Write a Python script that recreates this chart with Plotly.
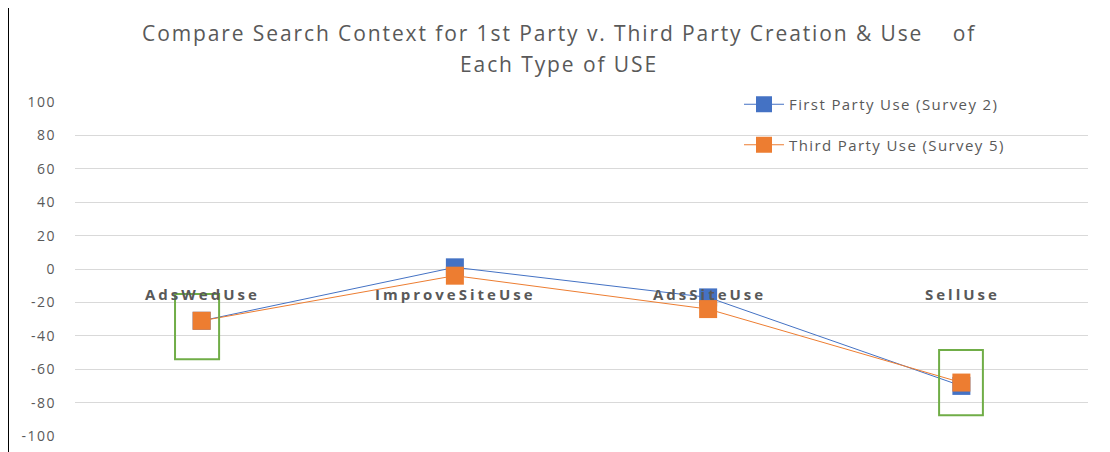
import plotly.graph_objects as go

# categories and values
categories = ["AdsWedUse", "ImproveSiteUse", "AdsSiteUse", "SellUse"]
first_party = [-31, 1, -17, -70]
third_party = [-31, -4, -24, -68]
y_ticks = [100, 80, 60, 40, 20, 0, -20, -40, -60, -80, -100]

title_lines = ["Compare Search Context for 1st Party v. Third Party Creation &amp; Use&nbsp;&nbsp;&nbsp; of",
               "Each Type of USE"]


def spaced(txt, px):
    return '<span style="letter-spacing:%spx">%s</span>' % (px, txt)


# helpers in screen pixels: plot area spans x 75..1088, y 102..436; paper top at 80
def py(pixel_y):
    return (436 - pixel_y) / 356


def px(pixel_x):
    return (pixel_x - 75) / 1013


fig = go.Figure()
fig.add_trace(go.Scatter(x=categories, y=first_party, mode="lines+markers",
                         name=spaced("First Party Use (Survey 2)", 1.4), legendgroup="a",
                         line=dict(color="#4472C4", width=1),
                         marker=dict(symbol="square", size=18, color="#4472C4")))
fig.add_trace(go.Scatter(x=categories, y=third_party, mode="lines+markers",
                         name=spaced("Third Party Use (Survey 5)", 1.4), legendgroup="b",
                         line=dict(color="#ED7D31", width=1),
                         marker=dict(symbol="square", size=18, color="#ED7D31")))

# category labels sit on the zero line, like Excel does
for c in categories:
    fig.add_annotation(x=c, y=0, text="<b>%s</b>" % spaced(c, 3), showarrow=False,
                       yanchor="top", yshift=-13, xshift=1,
                       font=dict(family="Open Sans", size=15, color="#595959"))

# title as two centred lines
for i, line in enumerate(title_lines):
    fig.add_annotation(x=px(559), xref="paper", y=py(33 + 31 * i), yref="paper",
                       text=spaced(line, 1.9), showarrow=False, xanchor="center", yanchor="middle",
                       font=dict(family="Open Sans", size=21, color="#595959"))

# green highlight boxes
fig.add_shape(type="rect", xref="x", yref="y", x0=-0.105, x1=0.069, y0=-15, y1=-54,
              line=dict(color="#70AD47", width=2))
fig.add_shape(type="rect", xref="x", yref="y", x0=2.912, x1=3.085, y0=-48.5, y1=-87.5,
              line=dict(color="#70AD47", width=2))
# white area behind the legend hides the gridlines
fig.add_shape(type="rect", xref="paper", yref="paper", x0=px(686), x1=px(1073), y0=py(160), y1=py(85),
              fillcolor="white", line=dict(width=0), layer="between")
# outer black frame (left and right edges)
for edge in (8, 1104):
    fig.add_shape(type="line", xref="paper", yref="paper", x0=px(edge), x1=px(edge),
                  y0=py(480), y1=py(0), line=dict(color="black", width=2))

# the page draws the figure 8 px in from the top-left corner, margins allow for that
fig.update_layout(
    width=1110, height=452,
    margin=dict(l=67, r=30, t=72, b=24, autoexpand=False),
    paper_bgcolor="white", plot_bgcolor="white",
    font=dict(family="Open Sans", color="#595959"),
    showlegend=True,
    legend=dict(x=px(739), y=py(88), xanchor="left", yanchor="top",
                bgcolor="rgba(0,0,0,0)",
                font=dict(family="Open Sans", size=15, color="#595959"),
                tracegroupgap=18, itemwidth=40),
    xaxis=dict(type="category", showticklabels=False, showgrid=False, zeroline=False,
               showline=False, range=[-0.5, 3.5]),
    yaxis=dict(domain=[0, 334 / 356], range=[-100, 100], tickvals=y_ticks,
               ticktext=[spaced(v, 1.5) for v in y_ticks],
               showgrid=True, gridcolor="#D9D9D9", automargin=False,
               gridwidth=1, zeroline=False, showline=False, ticklabelstandoff=18,
               tickfont=dict(family="Open Sans", size=14, color="#595959")),
)

fig.write_html("out.html")
